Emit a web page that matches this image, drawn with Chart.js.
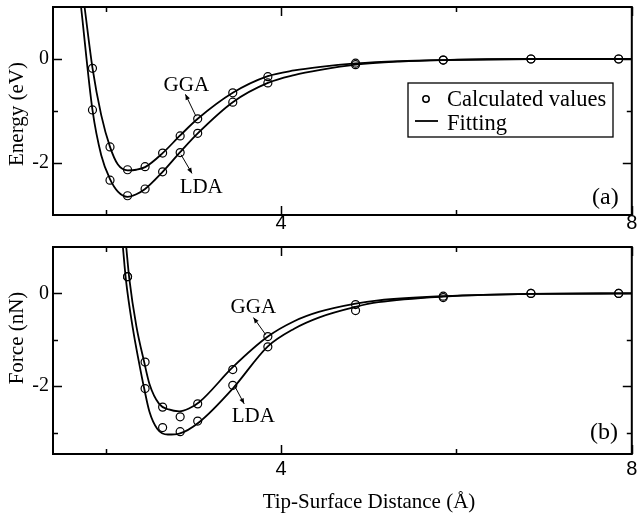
<!DOCTYPE html>
<html>
<head>
<meta charset="utf-8">
<title>Tip-surface energy and force</title>
<script src="https://cdn.jsdelivr.net/npm/chart.js@4.4.1/dist/chart.umd.min.js"></script>
<style>
    html, body { margin: 0; padding: 0; background: #fff; }
    #wrap { position: relative; width: 637px; height: 517px; }
    #energyChart { position: absolute; left: 0; top: 0; }
    #forceChart { position: absolute; left: 0; top: 240px; }
</style>
</head>
<body>
<div id="wrap">
    <canvas id="energyChart" width="637" height="240"></canvas>
    <canvas id="forceChart" width="637" height="277"></canvas>
</div>
<script>
// axis ticks
const xTickLabels = [4, 8];
const xMinorTicks = [2, 6];
const energyTicks = [0, -2];
const energyMinorTicks = [-1];
const forceTicks = [0, -2];
const forceMinorTicks = [-1, -3];

// calculated values, energy panel (eV)
const distEnergyCalc = [1.85, 2.05, 2.25, 2.45, 2.65, 2.85, 3.05, 3.45, 3.85, 4.85, 5.85, 6.85, 7.85];
const energyGGA = [-0.18, -1.69, -2.13, -2.07, -1.81, -1.48, -1.15, -0.65, -0.34, -0.08, -0.02, 0, 0];
const energyLDA = [-0.98, -2.33, -2.63, -2.50, -2.17, -1.80, -1.43, -0.83, -0.46, -0.11, -0.02, 0, 0];

// fitting curves, energy panel
const distEnergyFitGGA = [1.76, 1.85, 1.95, 2.05, 2.14, 2.25, 2.35, 2.45, 2.65, 2.85, 3.05, 3.45, 3.85, 4.15, 4.45, 4.85, 5.35, 5.85, 6.85, 8.0];
const energyFitGGA = [1.0, -0.17, -1.08, -1.69, -2.03, -2.14, -2.13, -2.08, -1.81, -1.47, -1.15, -0.65, -0.33, -0.22, -0.15, -0.085, -0.04, -0.02, 0, 0];
const distEnergyFitLDA = [1.72, 1.85, 1.95, 2.05, 2.14, 2.25, 2.35, 2.45, 2.65, 2.85, 3.05, 3.45, 3.85, 4.15, 4.45, 4.85, 5.35, 5.85, 6.85, 8.0];
const energyFitLDA = [1.0, -0.98, -1.85, -2.31, -2.55, -2.65, -2.60, -2.50, -2.17, -1.79, -1.43, -0.83, -0.46, -0.31, -0.21, -0.11, -0.05, -0.02, 0, 0];

// calculated values, force panel (nN)
const distForceCalc = [2.25, 2.45, 2.65, 2.85, 3.05, 3.45, 3.85, 4.85, 5.85, 6.85, 7.85];
const forceGGA = [0.36, -1.48, -2.45, -2.66, -2.38, -1.64, -0.93, -0.24, -0.06, 0, 0];
const forceLDA = [0.36, -2.05, -2.89, -2.98, -2.75, -1.98, -1.15, -0.37, -0.09, 0, 0];

// fitting curves, force panel
const distForceFitGGA = [2.235, 2.27, 2.35, 2.44, 2.50, 2.61, 2.72, 2.84, 2.95, 3.07, 3.45, 3.85, 4.15, 4.43, 4.85, 5.11, 5.85, 6.85, 8.0];
const forceFitGGA = [1.0, 0.32, -0.70, -1.48, -1.95, -2.38, -2.50, -2.54, -2.48, -2.34, -1.59, -0.93, -0.60, -0.40, -0.22, -0.15, -0.06, -0.01, 0];
const distForceFitLDA = [2.197, 2.23, 2.31, 2.38, 2.44, 2.50, 2.59, 2.71, 2.84, 3.07, 3.45, 3.85, 4.15, 4.43, 4.85, 5.11, 5.85, 6.85, 8.0];
const forceFitLDA = [1.0, 0.32, -0.75, -1.48, -2.05, -2.55, -2.92, -3.04, -3.02, -2.77, -2.05, -1.14, -0.76, -0.52, -0.29, -0.19, -0.07, -0.01, 0];

const SERIF = "'Liberation Serif', 'Times New Roman', serif";
const SANS = "'Liberation Sans', Arial, sans-serif";

const toPoints = (xs, ys) => xs.map((x, i) => ({ x: x, y: ys[i] }));

function calcDataset(label, xs, ys) {
    return {
        label: label,
        data: toPoints(xs, ys),
        showLine: false,
        pointRadius: 4,
        pointBorderWidth: 1.2,
        pointBorderColor: '#000',
        pointBackgroundColor: 'rgba(0,0,0,0)'
    };
}

function fitDataset(label, xs, ys) {
    return {
        label: label,
        data: toPoints(xs, ys),
        showLine: true,
        borderColor: '#000',
        borderWidth: 1.8,
        pointRadius: 0,
        cubicInterpolationMode: 'monotone'
    };
}

// frame with inward major/minor ticks on all four sides
const frameTicks = {
    id: 'frameTicks',
    afterDatasetsDraw(chart, args, opts) {
        const { ctx, chartArea: a, scales } = chart;
        const xs = scales.x, ys = scales.y;
        ctx.save();
        ctx.strokeStyle = '#000';
        ctx.lineWidth = 1.5;
        ctx.beginPath();
        const xMark = (v, len) => {
            const px = Math.round(xs.getPixelForValue(v)) + 0.5;
            ctx.moveTo(px, a.bottom); ctx.lineTo(px, a.bottom - len);
            ctx.moveTo(px, a.top); ctx.lineTo(px, a.top + len);
        };
        const yMark = (v, len) => {
            const py = Math.round(ys.getPixelForValue(v)) + 0.5;
            ctx.moveTo(a.left, py); ctx.lineTo(a.left + len, py);
            ctx.moveTo(a.right, py); ctx.lineTo(a.right - len, py);
        };
        xs.ticks.forEach(t => xMark(t.value, 9));
        opts.xMinor.forEach(v => xMark(v, 5));
        ys.ticks.forEach(t => yMark(t.value, 9));
        opts.yMinor.forEach(v => yMark(v, 5));
        ctx.stroke();
        ctx.lineWidth = 2;
        ctx.strokeRect(a.left, a.top, a.width, a.height);
        ctx.restore();
    }
};

function drawArrow(ctx, x1, y1, x2, y2) {
    const ang = Math.atan2(y2 - y1, x2 - x1);
    ctx.beginPath();
    ctx.moveTo(x1, y1);
    ctx.lineTo(x2, y2);
    ctx.stroke();
    ctx.beginPath();
    ctx.moveTo(x2, y2);
    ctx.lineTo(x2 - 6 * Math.cos(ang - 0.4), y2 - 6 * Math.sin(ang - 0.4));
    ctx.lineTo(x2 - 6 * Math.cos(ang + 0.4), y2 - 6 * Math.sin(ang + 0.4));
    ctx.closePath();
    ctx.fill();
}

// labels, arrows, legend, axis titles
const panelDecor = {
    id: 'panelDecor',
    afterDraw(chart, args, opts) {
        const { ctx, scales } = chart;
        const xs = scales.x, ys = scales.y;
        ctx.save();
        ctx.fillStyle = '#000';
        ctx.strokeStyle = '#000';

        // series notes with arrows
        ctx.font = '21px ' + SERIF;
        ctx.textAlign = 'center';
        ctx.textBaseline = 'alphabetic';
        ctx.lineWidth = 1;
        (opts.notes || []).forEach(n => {
            ctx.fillText(n.text, xs.getPixelForValue(n.at[0]), ys.getPixelForValue(n.at[1]));
            drawArrow(ctx,
                xs.getPixelForValue(n.from[0]), ys.getPixelForValue(n.from[1]),
                xs.getPixelForValue(n.to[0]), ys.getPixelForValue(n.to[1]));
        });

        // panel tag
        ctx.font = '24px ' + SERIF;
        ctx.textAlign = 'left';
        ctx.fillText(opts.tag.text, opts.tag.x, opts.tag.y);

        // y title
        ctx.font = '21px ' + SERIF;
        ctx.save();
        ctx.translate(opts.yTitle.x, opts.yTitle.y);
        ctx.rotate(-Math.PI / 2);
        ctx.textAlign = 'center';
        ctx.textBaseline = 'middle';
        ctx.fillText(opts.yTitle.text, 0, 0);
        ctx.restore();

        // x title
        if (opts.xTitle) {
            ctx.textAlign = 'center';
            ctx.fillText(opts.xTitle.text, opts.xTitle.x, opts.xTitle.y);
        }

        // legend box
        if (opts.legend) {
            const L = opts.legend;
            ctx.fillStyle = '#fff';
            ctx.fillRect(L.left, L.top, L.width, L.height);
            ctx.fillStyle = '#000';
            ctx.lineWidth = 1.3;
            ctx.strokeRect(L.left, L.top, L.width, L.height);
            ctx.lineWidth = 1.5;
            ctx.beginPath();
            ctx.arc(L.left + 18, L.top + 16, 3.2, 0, Math.PI * 2);
            ctx.stroke();
            ctx.lineWidth = 1.8;
            ctx.beginPath();
            ctx.moveTo(L.left + 7, L.top + 38);
            ctx.lineTo(L.left + 30, L.top + 38);
            ctx.stroke();
            ctx.font = '22.5px ' + SERIF;
            ctx.textAlign = 'left';
            ctx.fillText('Calculated values', L.left + 39, L.top + 23);
            ctx.fillText('Fitting', L.left + 39, L.top + 46.5);
        }
        ctx.restore();
    }
};

function xScale(height, pad) {
    return {
        type: 'linear',
        min: 1.4,
        max: 8,
        afterBuildTicks: s => { s.ticks = xTickLabels.map(v => ({ value: v })); },
        afterFit: s => { s.height = height; s.paddingLeft = 0; s.paddingRight = 0; },
        grid: { display: false, drawTicks: false },
        border: { display: false },
        ticks: {
            autoSkip: false,
            maxRotation: 0,
            padding: pad,
            color: '#000',
            font: { family: SANS, size: 20 },
            callback: v => String(v)
        }
    };
}

function yScale(min, max, tickList) {
    return {
        type: 'linear',
        min: min,
        max: max,
        afterBuildTicks: s => { s.ticks = tickList.map(v => ({ value: v })); },
        afterFit: s => { s.width = 53; s.paddingTop = 0; s.paddingBottom = 0; },
        grid: { display: false, drawTicks: false },
        border: { display: false },
        ticks: {
            padding: 4,
            color: '#000',
            font: { family: SERIF, size: 20 },
            callback: v => String(v)
        }
    };
}

const baseOptions = {
    responsive: false,
    animation: false,
    devicePixelRatio: 1,
    events: []
};

new Chart(document.getElementById('energyChart'), {
    type: 'scatter',
    data: {
        datasets: [
            calcDataset('GGA calculated', distEnergyCalc, energyGGA),
            calcDataset('LDA calculated', distEnergyCalc, energyLDA),
            fitDataset('GGA fitting', distEnergyFitGGA, energyFitGGA),
            fitDataset('LDA fitting', distEnergyFitLDA, energyFitLDA)
        ]
    },
    options: Object.assign({}, baseOptions, {
        layout: { padding: { top: 7, right: 3, left: 0, bottom: 0 } },
        scales: {
            x: xScale(25, -3.5),
            y: yScale(-3, 1, energyTicks)
        },
        plugins: {
            legend: { display: false },
            tooltip: { enabled: false },
            frameTicks: { xMinor: xMinorTicks, yMinor: energyMinorTicks },
            panelDecor: {
                notes: [
                    { text: 'GGA', at: [2.92, -0.61], from: [3.03, -1.10], to: [2.91, -0.68] },
                    { text: 'LDA', at: [3.09, -2.57], from: [2.86, -1.84], to: [2.985, -2.20] }
                ],
                tag: { text: '(a)', x: 592, y: 204 },
                yTitle: { text: 'Energy (eV)', x: 17, y: 114 },
                legend: { left: 408, top: 83, width: 205, height: 54 }
            }
        }
    }),
    plugins: [frameTicks, panelDecor]
});

new Chart(document.getElementById('forceChart'), {
    type: 'scatter',
    data: {
        datasets: [
            calcDataset('GGA calculated', distForceCalc, forceGGA),
            calcDataset('LDA calculated', distForceCalc, forceLDA),
            fitDataset('GGA fitting', distForceFitGGA, forceFitGGA),
            fitDataset('LDA fitting', distForceFitLDA, forceFitLDA)
        ]
    },
    options: Object.assign({}, baseOptions, {
        layout: { padding: { top: 7, right: 3, left: 0, bottom: 0 } },
        scales: {
            x: xScale(63, 3),
            y: yScale(-3.46, 1, forceTicks)
        },
        plugins: {
            legend: { display: false },
            tooltip: { enabled: false },
            frameTicks: { xMinor: xMinorTicks, yMinor: forceMinorTicks },
            panelDecor: {
                notes: [
                    { text: 'GGA', at: [3.684, -0.42], from: [3.826, -0.89], to: [3.686, -0.52] },
                    { text: 'LDA', at: [3.684, -2.77], from: [3.47, -1.99], to: [3.58, -2.38] }
                ],
                tag: { text: '(b)', x: 590, y: 199 },
                yTitle: { text: 'Force (nN)', x: 17, y: 98 },
                xTitle: { text: 'Tip-Surface Distance (Å)', x: 369, y: 268 }
            }
        }
    }),
    plugins: [frameTicks, panelDecor]
});
</script>
</body>
</html>
